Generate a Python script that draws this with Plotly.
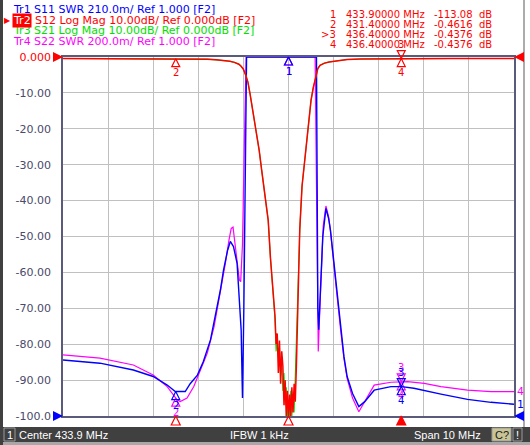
import numpy as np
import plotly.graph_objects as go

# stimulus settings (channel 1)
f_center = 433.9
f_span = 10.0
ifbw_text = "IFBW 1 kHz"
f_start = f_center - f_span / 2
f_stop = f_center + f_span / 2

# Tr2 S12 / Tr3 S21, log mag in dB
s12_freq = [428.90, 429.50, 430.00, 430.50, 431.00, 431.40, 431.80, 432.10, 432.30, 432.50,
            432.60, 432.70, 432.80, 432.85, 432.90, 432.95, 433.00, 433.05, 433.10, 433.15,
            433.20, 433.25, 433.30, 433.35, 433.40, 433.45, 433.50, 433.55,
            433.600, 433.625, 433.650, 433.675, 433.700, 433.725, 433.750, 433.775, 433.800,
            433.825, 433.850, 433.875, 433.900, 433.925, 433.950, 433.975, 434.000, 434.025,
            434.050, 434.075, 434.100,
            434.15, 434.20, 434.25, 434.30, 434.35, 434.40, 434.45, 434.50, 434.55, 434.60,
            434.70, 434.80, 435.00, 435.20, 435.50, 436.00, 436.40, 437.00, 437.50, 438.00, 438.90]
s12_db = [-0.40, -0.42, -0.43, -0.44, -0.45, -0.46, -0.50, -0.60, -0.80, -1.00,
          -1.20, -1.50, -2.00, -2.60, -3.40, -5.00, -7.00, -10.5, -14.5, -18.0,
          -21.5, -26.0, -31.0, -35.5, -40.0, -45.5, -56.0, -64.0,
          -72, -80, -77, -88, -79, -91, -82, -86, -97,
          -90, -100, -93, -100, -94, -100, -92, -99, -91,
          -96, -86, -72,
          -48, -36, -30, -23, -16.6, -12.0, -8.5, -5.5, -3.2, -2.3,
          -1.7, -1.4, -1.0, -0.70, -0.55, -0.48, -0.44, -0.43, -0.42, -0.42, -0.41]
s21_db = [-0.40, -0.42, -0.43, -0.44, -0.45, -0.46, -0.50, -0.60, -0.80, -1.00,
          -1.20, -1.50, -2.00, -2.60, -3.40, -5.00, -7.00, -10.5, -14.5, -18.0,
          -21.5, -26.0, -31.0, -35.5, -40.0, -45.5, -56.0, -64.0,
          -73, -82, -79, -84, -81, -89, -85, -93, -88,
          -97, -92, -100, -96, -100, -93, -100, -95, -99,
          -89, -84, -70,
          -48, -36, -30, -23, -16.6, -12.0, -8.5, -5.5, -3.2, -2.3,
          -1.7, -1.4, -1.0, -0.70, -0.55, -0.48, -0.44, -0.43, -0.42, -0.42, -0.41]

# Tr1 S11 SWR (210.0m/div, ref 1.000 at bottom)
s11_scale = 0.21
s11_freq = [428.90, 429.72, 430.46, 430.90, 431.21, 431.39, 431.61, 431.72, 431.88, 432.01,
            432.17, 432.28, 432.39, 432.46, 432.55, 432.61, 432.68, 432.76, 432.81, 432.85,
            432.87, 432.88, 432.91, 432.94, 432.97, 434.52, 434.53, 434.55, 434.57, 434.61,
            434.66, 434.73, 434.79, 434.83, 434.91, 434.98, 435.06, 435.13, 435.20, 435.32,
            435.46, 435.59, 435.80, 436.17, 436.41, 436.68, 437.28, 437.87, 438.39, 438.90]
s11_swr = [1.328, 1.309, 1.269, 1.231, 1.181, 1.143, 1.143, 1.189, 1.239, 1.317,
           1.445, 1.582, 1.737, 1.855, 1.970, 2.021, 1.991, 1.893, 1.697, 1.504,
           1.231, 1.105, 1.630, 2.470, 3.100, 3.100, 2.155, 1.630, 1.504, 1.735,
           2.050, 2.214, 2.155, 2.088, 1.893, 1.697, 1.504, 1.347, 1.231, 1.132,
           1.055, 1.084, 1.151, 1.172, 1.172, 1.162, 1.128, 1.097, 1.080, 1.069]

# Tr4 S22 SWR (200.0m/div, ref 1.000 at bottom)
s22_scale = 0.20
s22_freq = [428.90, 429.72, 430.46, 430.90, 431.21, 431.43, 431.50, 431.65, 431.80, 431.95,
            432.10, 432.25, 432.39, 432.50, 432.58, 432.63, 432.67, 432.72, 432.76, 432.81,
            432.84, 432.88, 432.92, 432.96, 434.49, 434.51, 434.53, 434.56, 434.58, 434.62,
            434.67, 434.73, 434.79, 434.83, 434.91, 434.98, 435.06, 435.13, 435.20, 435.32,
            435.46, 435.56, 435.80, 436.17, 436.54, 436.91, 437.28, 437.87, 438.39, 438.90]
s22_swr = [1.340, 1.322, 1.284, 1.228, 1.164, 1.090, 1.080, 1.100, 1.164, 1.256,
           1.350, 1.498, 1.684, 1.850, 1.980, 2.045, 2.052, 1.950, 1.888, 1.758,
           1.748, 1.960, 2.500, 3.000, 3.000, 2.600, 2.100, 1.360, 1.500, 1.800,
           2.060, 2.170, 2.110, 2.030, 1.850, 1.660, 1.470, 1.320, 1.210, 1.100,
           1.024, 1.070, 1.172, 1.188, 1.192, 1.182, 1.164, 1.144, 1.136, 1.136]

# markers
mk_id = ["1", "2", "3", "4"]
mk_freq = [433.9, 431.4, 436.4, 436.4]
mk_s12_db = [-113.08, -0.4616, -0.4376, -0.4376]
active_mk = 2

y_ticks = [0, -10, -20, -30, -40, -50, -60, -70, -80, -90, -100]
y_tick_text = ["<span style='color:#ff0000'>0.000</span>", "-10.00", "-20.00", "-30.00", "-40.00",
               "-50.00", "-60.00", "-70.00", "-80.00", "-90.00", "-100.0"]

BLUE = "#0000ff"
RED = "#ff0000"
GREEN = "#00e000"
MAG = "#ff00ff"
FONT = "DejaVu Sans"

header = [("Tr1 S11 SWR 210.0m/ Ref 1.000 [F2]", BLUE),
          ("S12 Log Mag 10.00dB/ Ref 0.000dB [F2]", RED),
          ("Tr3 S21 Log Mag 10.00dB/ Ref 0.000dB [F2]", GREEN),
          ("Tr4 S22 SWR 200.0m/ Ref 1.000 [F2]", MAG)]

W, H = 530, 445
ML, MR, MT, MB = 63, 16, 57, 29
PW = W - ML - MR
PH = H - MT - MB


def px(x):
    return (x - ML) / PW


def py(y):
    return (H - MB - y) / PH


fig = go.Figure()

# overlaid subplots are stacked y < y2 < y3 < y4:
# y = dB grid (ref arrows only), y2 = Tr4 SWR, y3 = Tr1 SWR, y4 = Tr2/Tr3 dB (active on top)
fig.add_trace(go.Scatter(x=[f_start, f_stop], y=[0, 0], mode="markers", cliponaxis=False,
                         marker=dict(symbol=["arrow-right", "arrow-left"], size=10, color=RED)))
fig.add_trace(go.Scatter(x=s22_freq, y=s22_swr, yaxis="y2", mode="lines",
                         line=dict(color=MAG, width=1.2)))
fig.add_trace(go.Scatter(x=s11_freq, y=s11_swr, yaxis="y3", mode="lines",
                         line=dict(color=BLUE, width=1.4)))
fig.add_trace(go.Scatter(x=s12_freq, y=s21_db, yaxis="y4", mode="lines",
                         line=dict(color=GREEN, width=1.1)))
fig.add_trace(go.Scatter(x=s12_freq, y=s12_db, yaxis="y4", mode="lines",
                         line=dict(color=RED, width=1.5)))


def trace_markers(freqs, vals, yref, color, top):
    ys = [min(max(np.interp(f, freqs, vals), 1.0), top) for f in mk_freq]
    syms = ["arrow-down-open" if i == active_mk else "arrow-up-open" for i in range(4)]
    fig.add_trace(go.Scatter(x=mk_freq, y=ys, yaxis=yref, mode="markers", cliponaxis=False,
                             marker=dict(symbol=syms, size=8, color=color,
                                         line=dict(color=color, width=1.2))))
    for i in range(4):
        fig.add_annotation(x=mk_freq[i], y=ys[i], yref=yref, text=mk_id[i],
                           showarrow=False, yshift=14 if i == active_mk else -14,
                           font=dict(family=FONT, size=10, color=color))


trace_markers(s22_freq, s22_swr, "y2", MAG, 1 + 10 * s22_scale)
trace_markers(s11_freq, s11_swr, "y3", BLUE, 1 + 10 * s11_scale)

# blue reference arrows
fig.add_trace(go.Scatter(x=[f_start, f_stop], y=[1.0, 1.0], yaxis="y3", mode="markers",
                         cliponaxis=False,
                         marker=dict(symbol=["arrow-right", "arrow-left"], size=10, color=BLUE)))

# Tr2 markers (active trace) + stimulus indicators at the bottom
red_y = [max(v, -100) for v in mk_s12_db]
for i in range(1, 4):
    sym = "arrow-down-open" if i == active_mk else "arrow-up-open"
    fig.add_trace(go.Scatter(x=[mk_freq[i]], y=[red_y[i]], yaxis="y4", mode="markers",
                             cliponaxis=False,
                             marker=dict(symbol=sym, size=8, color=RED, line=dict(color=RED, width=1.2))))
    fig.add_annotation(x=mk_freq[i], y=red_y[i], yref="y4", text=mk_id[i], showarrow=False,
                       yshift=14 if i == active_mk else -14,
                       font=dict(family=FONT, size=10, color=RED))
fig.add_trace(go.Scatter(x=mk_freq[:3], y=[-100] * 3, yaxis="y4", mode="markers", cliponaxis=False,
                         marker=dict(symbol=["arrow-up-open", "arrow-up-open", "arrow-up"], size=9,
                                     color=RED, line=dict(color=RED, width=1.2))))

# trace numbers at right end
fig.add_annotation(x=f_stop, y=s11_swr[-1], yref="y3", text="1", showarrow=False, xanchor="left",
                   xshift=1, font=dict(family=FONT, size=11, color=BLUE))
fig.add_annotation(x=f_stop, y=s22_swr[-1], yref="y2", text="4", showarrow=False, xanchor="left",
                   xshift=1, font=dict(family=FONT, size=11, color=MAG))

# header lines
row_y = [9, 20, 31, 42]
for i, (txt, col) in enumerate(header):
    x0 = 34 if i == 1 else 12
    fig.add_annotation(xref="paper", yref="paper", x=px(x0), y=py(row_y[i]), text=txt,
                       showarrow=False, xanchor="left", yanchor="middle", borderpad=0,
                       font=dict(family=FONT, size=11, color=col))
fig.add_annotation(xref="paper", yref="paper", x=px(12), y=py(row_y[1]), text="Tr2",
                   showarrow=False, xanchor="left", yanchor="middle", bgcolor=RED, borderpad=0,
                   font=dict(family=FONT, size=11, color="white"))
fig.add_annotation(xref="paper", yref="paper", x=px(3), y=py(row_y[1]), text="\u25b6",
                   showarrow=False, xanchor="left", yanchor="middle", borderpad=0,
                   font=dict(family=FONT, size=8, color=RED))

# marker table
tab_y = [14.5, 24.5, 34.5, 44.5]
for i in range(4):
    lab = (">" if i == active_mk else "") + mk_id[i]
    fig.add_annotation(xref="paper", yref="paper", x=px(337), y=py(tab_y[i]), text=lab,
                       showarrow=False, xanchor="right", yanchor="middle", borderpad=0,
                       font=dict(family=FONT, size=10, color=RED))
    fig.add_annotation(xref="paper", yref="paper", x=px(345), y=py(tab_y[i]),
                       text=f"{mk_freq[i]:.5f} MHz", showarrow=False, xanchor="left",
                       yanchor="middle", borderpad=0, font=dict(family=FONT, size=10, color=RED))
    fig.add_annotation(xref="paper", yref="paper", x=px(474), y=py(tab_y[i]),
                       text=f"{mk_s12_db[i]:.5g}", showarrow=False, xanchor="right",
                       yanchor="middle", borderpad=0, font=dict(family=FONT, size=10, color=RED))
    fig.add_annotation(xref="paper", yref="paper", x=px(478), y=py(tab_y[i]), text="dB",
                       showarrow=False, xanchor="left", yanchor="middle", borderpad=0,
                       font=dict(family=FONT, size=10, color=RED))

# window frame and status bar
shapes = [
    dict(type="rect", xref="paper", yref="paper", x0=px(0), x1=px(W), y0=py(H), y1=py(427),
         fillcolor="#404040", line=dict(width=0), layer="below"),
    dict(type="rect", xref="paper", yref="paper", x0=px(0), x1=px(W), y0=py(H), y1=py(442),
         fillcolor="#a8a8a8", line=dict(width=0), layer="below"),
    dict(type="rect", xref="paper", yref="paper", x0=px(0), x1=px(3), y0=py(H), y1=py(0),
         fillcolor="#404040", line=dict(width=0), layer="below"),
    dict(type="line", xref="paper", yref="paper", x0=px(524), x1=px(524), y0=py(427), y1=py(0),
         line=dict(color="#909090", width=1.5), layer="below"),
    dict(type="rect", xref="paper", yref="paper", x0=px(4), x1=px(15), y0=py(441), y1=py(428),
         fillcolor="#404040", line=dict(color="#9a9a9a", width=1), layer="below"),
    dict(type="rect", xref="paper", yref="paper", x0=px(492), x1=px(511), y0=py(441), y1=py(428),
         fillcolor="#c8c496", line=dict(color="#9a9a9a", width=1), layer="below"),
    dict(type="rect", xref="paper", yref="paper", x0=px(513), x1=px(522), y0=py(441), y1=py(428),
         fillcolor="#404040", line=dict(color="#9a9a9a", width=1), layer="below"),
]
bar = [(9.5, "1", "center", "white"),
       (18, f"Center {f_center:.1f} MHz", "left", "white"),
       (259, ifbw_text, "center", "white"),
       (482, f"Span {f_span:g} MHz", "right", "white"),
       (501.5, "C?", "center", "#202020"),
       (517.5, "!", "center", "white")]
for x, txt, anc, col in bar:
    fig.add_annotation(xref="paper", yref="paper", x=px(x), y=py(434.5), text=txt, showarrow=False,
                       xanchor=anc, yanchor="middle", borderpad=0,
                       font=dict(family="Liberation Sans", size=11, color=col))

fig.update_layout(
    width=W, height=H,
    margin=dict(l=ML, r=MR, t=MT, b=MB, pad=0),
    paper_bgcolor="white", plot_bgcolor="white",
    showlegend=False, hovermode=False,
    shapes=shapes,
    xaxis=dict(range=[f_start, f_stop], tick0=f_start, dtick=1, showticklabels=False,
               showgrid=True, gridcolor="#c0c0c0", gridwidth=1, zeroline=False,
               showline=True, linecolor="#5a5a7a", linewidth=1.5, mirror=True, layer="below traces"),
    yaxis=dict(range=[-100, 0], tickvals=y_ticks, ticktext=y_tick_text, showgrid=True,
               gridcolor="#c0c0c0", gridwidth=1, zeroline=False, showline=True,
               linecolor="#5a5a7a", linewidth=1.5, mirror=True, layer="below traces",
               ticklabelstandoff=8, tickfont=dict(family=FONT, size=11, color="#4a4a6a")),
    yaxis2=dict(range=[1.0, 1 + 10 * s22_scale], overlaying="y", anchor="x", visible=False),
    yaxis3=dict(range=[1.0, 1 + 10 * s11_scale], overlaying="y", anchor="x", visible=False),
    yaxis4=dict(range=[-100, 0], overlaying="y", anchor="x", visible=False),
)

fig.write_html("out.html", config={"displayModeBar": False},
               post_script="document.body.style.margin='0';")
